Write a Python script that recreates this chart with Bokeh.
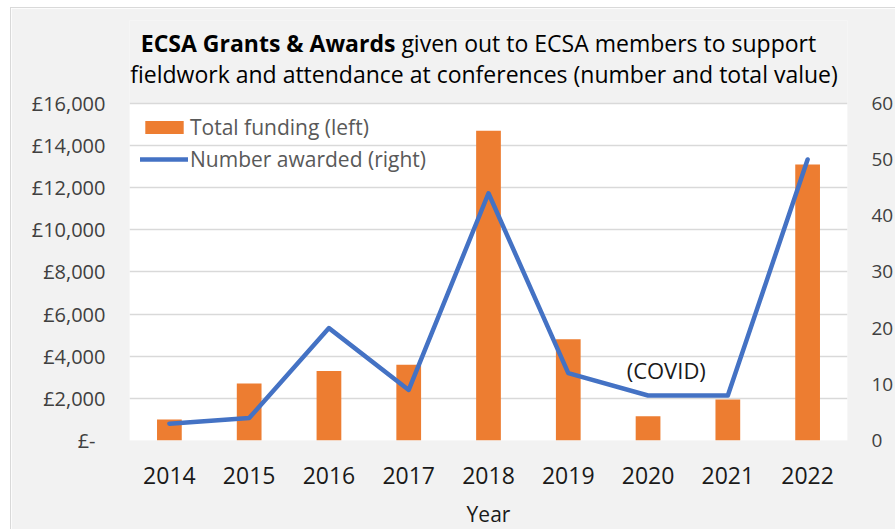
from bokeh.plotting import figure
from bokeh.models import (Range1d, LinearAxis, FixedTicker, Label, Legend, LegendItem,
                          BoxAnnotation)
from bokeh.embed import file_html
from bokeh.resources import INLINE

# ---- data ----
years = ["2014", "2015", "2016", "2017", "2018", "2019", "2020", "2021", "2022"]
total_funding = [1000, 2700, 3300, 3600, 14700, 4800, 1150, 1950, 13100]
number_awarded = [3, 4, 20, 9, 44, 12, 8, 8, 50]
funding_ticks = [0, 2000, 4000, 6000, 8000, 10000, 12000, 14000, 16000]
funding_tick_labels = ["£-\u2002", "£2,000", "£4,000", "£6,000", "£8,000",
                       "£10,000", "£12,000", "£14,000", "£16,000"]
count_ticks = [0, 10, 20, 30, 40, 50, 60]
title_bold = "ECSA Grants & Awards"
title_rest = "given out to ECSA members to support"
title_line2 = "fieldwork and attendance at conferences (number and total value)"

FONT = "Open Sans"
x = list(range(len(years)))

# axis maxima of the plotting area; the frame also spans the title band above it
funding_max = funding_ticks[-1]
count_max = count_ticks[-1]
PLOT_H = 338          # pixel height of the white plotting area
FRAME_H = 421         # pixel height of the frame (plot area + title band)
ext = FRAME_H / PLOT_H

p = figure(width=885, height=522, output_backend="svg", toolbar_location=None,
           title=None,
           x_range=Range1d(-0.5, len(years) - 0.5),
           y_range=Range1d(0, funding_max * ext),
           min_border_left=118, min_border_right=46, min_border_top=12, min_border_bottom=89,
           background_fill_color="#f2f2f2", border_fill_color="#f2f2f2",
           outline_line_color=None)
p.margin = (7, 0, 0, 10)
p.styles = {"border-top": "1px solid #d9d9d9", "border-left": "1px solid #d9d9d9"}
p.extra_y_ranges = {"count": Range1d(0, count_max * ext)}

# white plotting area
p.add_layout(BoxAnnotation(left=-0.5, right=len(years) - 0.5, bottom=0, top=funding_max,
                           fill_color="white", fill_alpha=1, line_color=None,
                           level="image"))

# grid
p.xgrid.visible = False
p.ygrid.ticker = FixedTicker(ticks=funding_ticks)
p.ygrid.grid_line_color = "#d9d9d9"
p.ygrid.grid_line_width = 1.5

# left axis
ya = p.yaxis[0]
ya.ticker = FixedTicker(ticks=funding_ticks)
ya.major_label_overrides = dict(zip(funding_ticks, funding_tick_labels))
ya.axis_line_color = None
ya.major_tick_line_color = None
ya.minor_tick_line_color = None
ya.major_label_standoff = 18
ya.major_label_text_font = FONT
ya.major_label_text_font_size = "20px"
ya.major_label_text_color = "#404040"

# right axis
ra = LinearAxis(y_range_name="count", ticker=FixedTicker(ticks=count_ticks))
ra.axis_line_color = None
ra.major_tick_line_color = None
ra.minor_tick_line_color = None
ra.major_label_standoff = 18
ra.major_label_text_font = FONT
ra.major_label_text_font_size = "19px"
ra.major_label_text_color = "#404040"
p.add_layout(ra, "right")

# x axis
xa = p.xaxis[0]
xa.ticker = FixedTicker(ticks=x)
xa.major_label_overrides = {i: y for i, y in zip(x, years)}
xa.axis_line_color = None
xa.major_tick_line_color = None
xa.minor_tick_line_color = None
xa.major_label_standoff = 20
xa.major_label_text_font = FONT
xa.major_label_text_font_size = "23px"
xa.major_label_text_color = "#1a1a1a"
xa.axis_label = "Year"
xa.axis_label_text_font = FONT
xa.axis_label_text_font_style = "normal"
xa.axis_label_text_font_size = "21px"
xa.axis_label_text_color = "#1a1a1a"
xa.axis_label_standoff = 13

bars = p.vbar(x=x, top=total_funding, width=0.31, fill_color="#ed7d31", line_color=None)
line = p.line(x, number_awarded, y_range_name="count", color="#4472c4",
              line_width=4.5, line_join="round", line_cap="round")

legend = Legend(items=[LegendItem(label="Total funding (left)", renderers=[bars]),
                       LegendItem(label="Number awarded (right)", renderers=[line])],
                location=(11, 267), margin=0, padding=0, spacing=4,
                glyph_width=48, glyph_height=16, label_height=24, label_standoff=2,
                border_line_color=None, background_fill_alpha=0,
                label_text_font=FONT, label_text_font_size="21px",
                label_text_color="#595959")
p.add_layout(legend)

# two-line title (first line partly bold), inside the frame's title band
p.add_layout(Label(x=2.833, y=18880, text=title_bold, text_font=FONT,
                   text_font_style="bold", text_font_size="23px", text_align="right",
                   text_baseline="middle", text_color="#000000"))
p.add_layout(Label(x=2.908, y=18880, text=title_rest, text_font=FONT,
                   text_font_size="23px", text_align="left", text_baseline="middle",
                   text_color="#000000"))
p.add_layout(Label(x=3.944, y=17373, text=title_line2, text_font=FONT,
                   text_font_size="23px", text_align="center", text_baseline="middle",
                   text_color="#000000"))

# annotation
p.add_layout(Label(x=6.228, y=3361, text="(COVID)", text_font=FONT,
                   text_font_size="22px", text_align="center", text_baseline="middle",
                   text_color="#1a1a1a"))

open("out.html", "w").write(file_html(p, INLINE))
